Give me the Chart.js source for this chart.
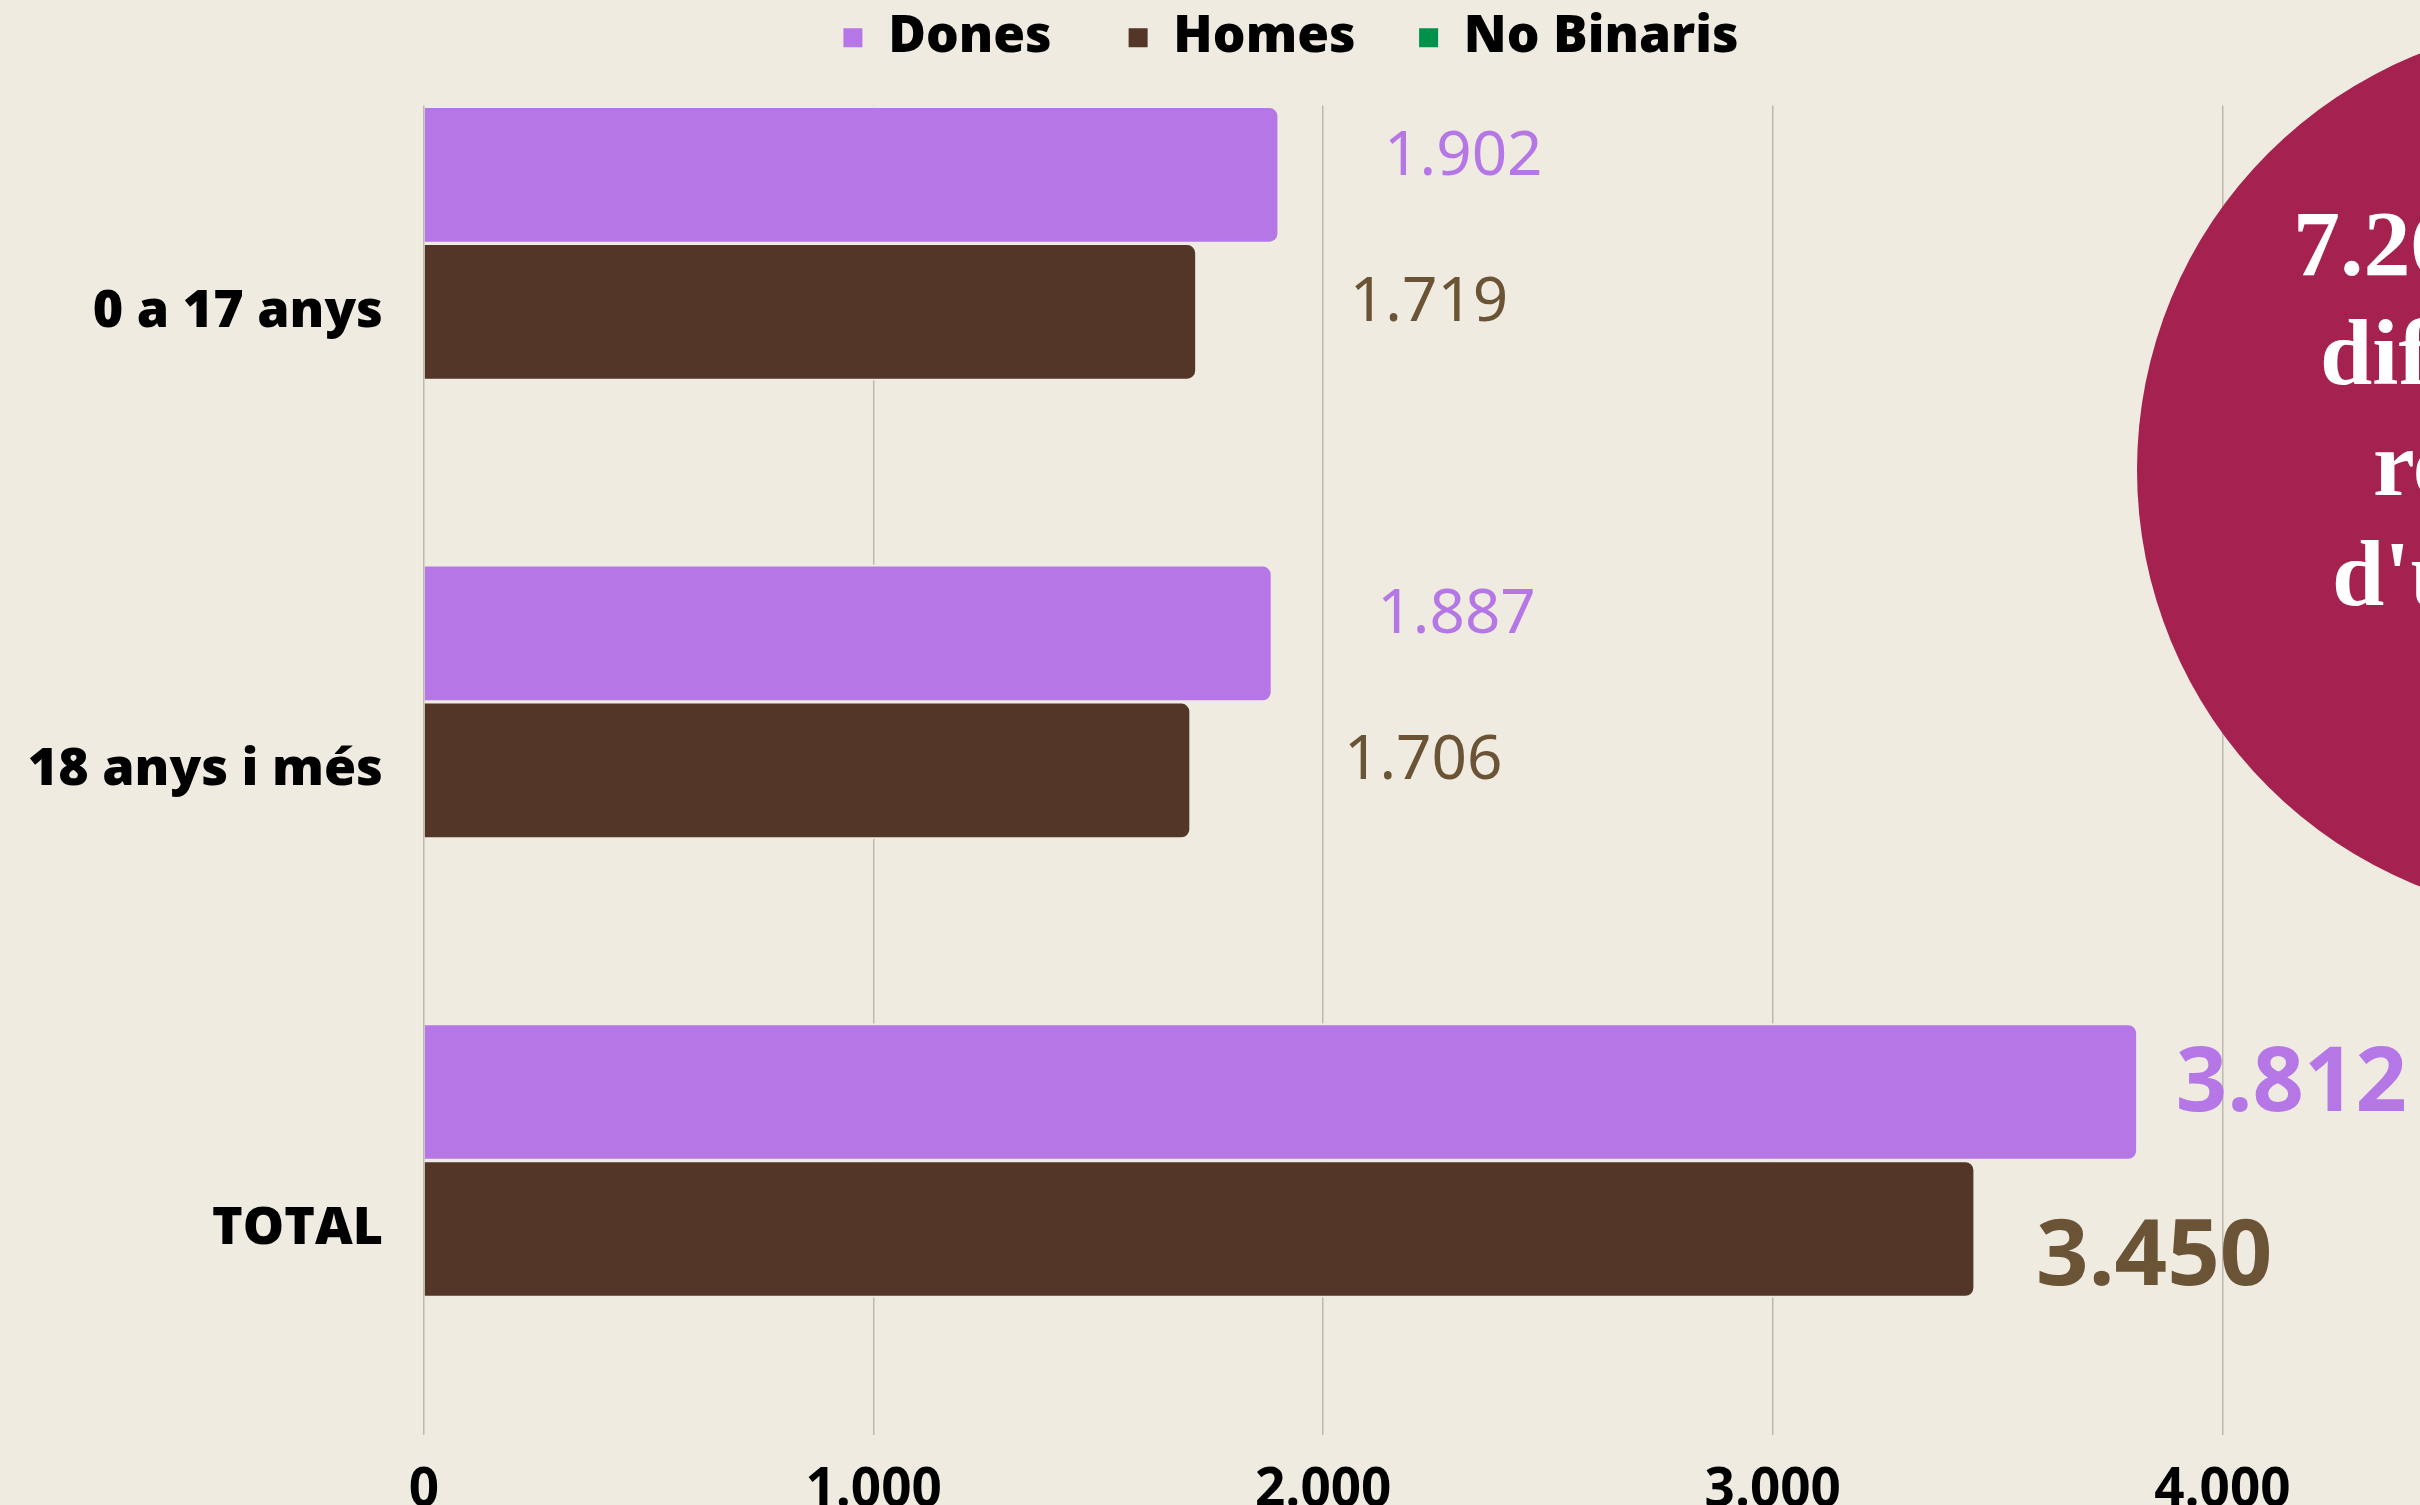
<!DOCTYPE html>
<html lang="ca">
<head>
<meta charset="utf-8">
<title>Persones ateses per edat i gènere</title>
<script src="https://cdn.jsdelivr.net/npm/chart.js@4.4.1/dist/chart.umd.min.js"></script>
<style>
    html, body { margin: 0; padding: 0; background: #efebe1; overflow: hidden; }
    #wrap { width: 2582px; height: 1547px; }
</style>
</head>
<body>
<div id="wrap"><canvas id="barChart" width="2582" height="1547"></canvas></div>
<script>
// ------------ DADES ------------ //

var categories = ["0 a 17 anys", "18 anys i més", "TOTAL"];
var seriesNames = ["Dones", "Homes", "No Binaris"];
var dones = [1902, 1887, 3812];
var homes = [1719, 1706, 3450];
var noBinaris = [0, 0, 0];
var xTicks = [0, 1000, 2000, 3000, 4000];
var circleLines = ["7.262 persones", "diferents han", "rebut suport", "d'un servei"];

// ------------ ESTIL ------------ //

var bg = "#efebe1";
var barColors = ["#b677e6", "#533627", "#00924a"];
var valueColors = ["#b677e6", "#6b5335"];
var legendGaps = ["\u2003 ", "\u2003", ""];

function fmt(v) {
    return String(v).replace(/\B(?=(\d{3})+(?!\d))/g, ".");
}

function points(values) {
    return values.map(function (v, i) { return { x: v, y: i }; });
}

// etiquetes de valor: petites per edats, grans per al total
var labelStyle = {
    part: [
        { font: "400 62px 'Noto Sans'", dx: 105, dy: -18 },
        { font: "400 62px 'Noto Sans'", dx: 153, dy: -9 }
    ],
    total: [
        { font: "700 90px 'Noto Sans'", dx: 38, dy: -7 },
        { font: "700 92px 'Noto Sans'", dx: 61, dy: 30 }
    ]
};

var valueLabels = {
    id: "valueLabels",
    afterDatasetsDraw: function (chart) {
        var ctx = chart.ctx;
        [0, 1].forEach(function (di) {
            var meta = chart.getDatasetMeta(di);
            meta.data.forEach(function (bar, i) {
                var v = chart.data.datasets[di].data[i].x;
                if (!v) return;
                var s = labelStyle[i === categories.length - 1 ? "total" : "part"][di];
                ctx.save();
                ctx.font = s.font;
                ctx.fillStyle = valueColors[di];
                ctx.textAlign = "left";
                ctx.textBaseline = "middle";
                ctx.fillText(fmt(v), bar.x + s.dx, bar.y + s.dy);
                ctx.restore();
            });
        });
    }
};

// cercle granat de la dreta, retallat per la vora
var circleNote = {
    id: "circleNote",
    afterDraw: function (chart) {
        var ctx = chart.ctx;
        var starts = [2293, 2320, 2373, 2332];
        var baselines = [275, 384, 495, 605];
        ctx.save();
        ctx.beginPath();
        ctx.arc(2585, 470, 448, 0, Math.PI * 2);
        ctx.fillStyle = "#a5214f";
        ctx.fill();
        ctx.fillStyle = "#ffffff";
        ctx.font = "700 94px 'Liberation Serif'";
        ctx.textAlign = "left";
        ctx.textBaseline = "alphabetic";
        circleLines.forEach(function (t, i) {
            ctx.fillText(t, starts[i], baselines[i]);
        });
        ctx.restore();
    }
};

// espai extra sota la llegenda
var legendGap = {
    id: "legendGap",
    afterInit: function (chart) {
        var fit = chart.legend.fit;
        chart.legend.fit = function () {
            fit.call(this);
            this.height += 32;
        };
    }
};

new Chart("barChart", {
    type: "bar",
    data: {
        datasets: [{
            label: seriesNames[0],
            data: points(dones),
            backgroundColor: barColors[0]
        }, {
            label: seriesNames[1],
            data: points(homes),
            backgroundColor: barColors[1]
        }, {
            label: seriesNames[2],
            data: points(noBinaris),
            backgroundColor: barColors[2]
        }]
    },
    options: {
        indexAxis: "y",
        responsive: false,
        devicePixelRatio: 1,
        animation: false,
        events: [],
        layout: { padding: 0 },
        datasets: {
            bar: {
                barThickness: 137,
                borderWidth: 2,
                borderColor: bg,
                borderRadius: 10
            }
        },
        scales: {
            x: {
                type: "linear",
                position: "bottom",
                min: 0,
                max: 4800,
                afterBuildTicks: function (axis) {
                    axis.ticks = xTicks.map(function (v) { return { value: v }; });
                },
                grid: { color: "#bdb9af", lineWidth: 1.5, drawTicks: false },
                border: { display: false },
                ticks: {
                    callback: function (v) { return fmt(v); },
                    font: { family: "Open Sans", weight: "700", size: 53 },
                    color: "#000",
                    padding: 24
                }
            },
            y: {
                type: "linear",
                offset: false,
                reverse: true,
                min: -0.45,
                max: 2.45,
                afterBuildTicks: function (axis) {
                    axis.ticks = categories.map(function (c, i) { return { value: i }; });
                },
                afterFit: function (axis) { axis.width = 424; },
                grid: { display: false, drawTicks: false },
                border: { display: false },
                ticks: {
                    callback: function (v) { return categories[v]; },
                    font: { family: "Open Sans", weight: "800", size: 52 },
                    color: "#000",
                    padding: 41
                }
            }
        },
        plugins: {
            legend: {
                position: "top",
                align: "center",
                labels: {
                    font: { family: "Open Sans", weight: "800", size: 51.5 },
                    color: "#000",
                    boxWidth: 19,
                    boxHeight: 19,
                    padding: 12,
                    generateLabels: function (chart) {
                        var items = Chart.defaults.plugins.legend.labels.generateLabels(chart);
                        items.forEach(function (it, i) {
                            it.text = it.text + legendGaps[i];
                            it.lineWidth = 0;
                        });
                        return items;
                    }
                }
            },
            tooltip: { enabled: false },
            title: { display: false }
        }
    },
    plugins: [valueLabels, circleNote, legendGap]
});
</script>
</body>
</html>
